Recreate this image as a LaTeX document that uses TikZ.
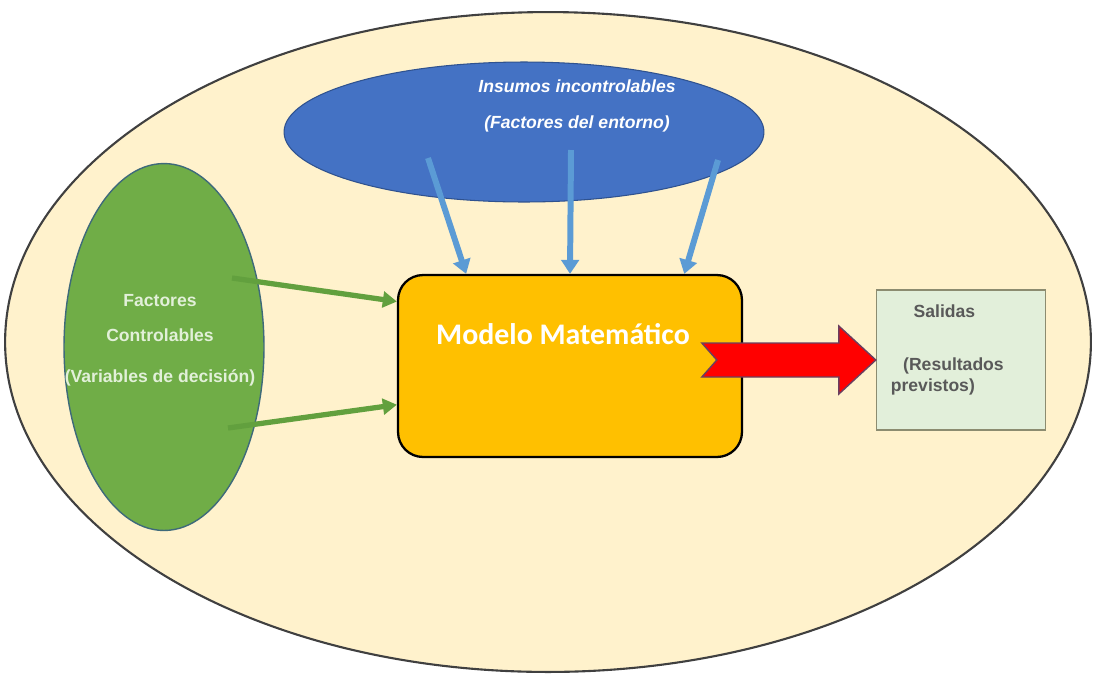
\documentclass[tikz,border=0pt]{standalone}
\usepackage{fontspec}
\setmainfont{Liberation Sans}
\newfontfamily\calibri{Carlito}
\usetikzlibrary{positioning,shapes,calc,arrows.meta}
\definecolor{fondo}{HTML}{FFF2CC}
\definecolor{azul}{HTML}{4472C4}
\definecolor{azulborde}{HTML}{2F528F}
\definecolor{azulclaro}{HTML}{5B9BD5}
\definecolor{verde}{HTML}{70AD47}
\definecolor{verdeflecha}{HTML}{62A03E}
\definecolor{verdeborde}{HTML}{3E6A7A}
\definecolor{verdetexto}{HTML}{E2F0D9}
\definecolor{naranja}{HTML}{FFC000}
\definecolor{salidafondo}{HTML}{E2EFDA}
\definecolor{salidaborde}{HTML}{8C8C70}
\definecolor{gris}{HTML}{595959}
\definecolor{rojoborde}{HTML}{6A3F5F}

\begin{document}
\begin{tikzpicture}[x=0.02cm,y=-0.02cm,line width=1pt,
    flecha azul/.style={draw=azulclaro,line width=3.4pt,-{Triangle[width=10pt,length=8pt]}},
    flecha verde/.style={draw=verdeflecha,line width=3pt,-{Triangle[width=9pt,length=8pt]}},
    texto/.style={font=\bfseries,inner sep=0pt}]
                \useasboundingbox (0,0) rectangle (1097,680);
                \node[shape=ellipse,draw=black!75,line width=1.2pt,fill=fondo,minimum width=21.72cm,minimum height=13.2cm] (sistema) at (548,342) {};
                \node[shape=ellipse,draw=azulborde,line width=0.6pt,fill=azul,minimum width=9.6cm,minimum height=2.8cm] (insumos) at (524,132) {};
                \node[shape=ellipse,draw=verdeborde,line width=0.8pt,fill=verde,minimum width=4cm,minimum height=7.34cm] (factores) at (164,347) {};
                \node[draw=black,line width=1.3pt,rounded corners=0.5cm,fill=naranja,minimum width=6.88cm,minimum height=3.64cm] (modelo) at (570,366) {};
                \node[draw=salidaborde,line width=0.8pt,fill=salidafondo,minimum width=3.38cm,minimum height=2.8cm] (salidas) at (961,360) {};
                % textos
                \node[texto,text=white,font=\bfseries\itshape,align=center] (tinsumos) at (577,106) {Insumos incontrolables\\[9pt](Factores del entorno)};
                \node[texto,text=verdetexto,align=center] (tfactores) at (160,340) {Factores\\[8pt]Controlables\\[11pt](Variables de decisión)};
                \node[texto,text=white,font=\calibri\bfseries\fontsize{17pt}{20pt}\selectfont] (tmodelo) at (563,334) {Modelo Matemático};
                \node[texto,text=gris,align=left,anchor=north west] (tsalidas) at (890,304) {\hspace*{13pt}Salidas\\[18pt]\hspace*{7pt}(Resultados\\previstos)};
                % flechas
                \coordinate (i1) at (428,158);
                \coordinate (i2) at (571,150);
                \coordinate (i3) at (718,160);
                \coordinate (f1) at (232,278);
                \coordinate (f2) at (228,428);
                \draw[flecha azul] (i1) -- ($(modelo.north west)!0.2!(modelo.north east)$);
                \draw[flecha azul] (i2) -- ($(modelo.north west)!0.5!(modelo.north east)$);
                \draw[flecha azul] (i3) -- ($(modelo.north west)!0.83!(modelo.north east)$);
                \draw[flecha verde] (f1) -- ($(modelo.north west)!0.15!(modelo.south west)$);
                \draw[flecha verde] (f2) -- ($(modelo.north west)!0.71!(modelo.south west)$);
                \draw[fill=red,draw=rojoborde,line width=0.8pt] ([shift={(-174,-17)}]salidas.west) -- ([shift={(-37,-17)}]salidas.west)
                    -- ([shift={(-37,-34)}]salidas.west) -- (salidas.west) -- ([shift={(-37,34)}]salidas.west)
                    -- ([shift={(-37,17)}]salidas.west) -- ([shift={(-174,17)}]salidas.west) -- ([shift={(-159,0)}]salidas.west) -- cycle;
            \end{tikzpicture}
\end{document}
